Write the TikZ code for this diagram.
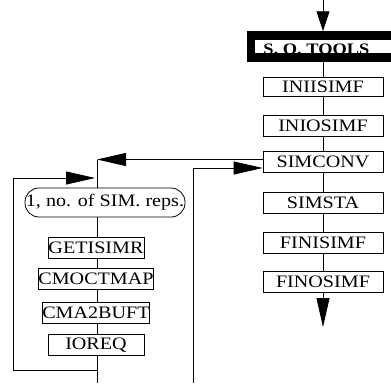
\documentclass[tikz,border=0pt]{standalone}
\usepackage{fontspec}
\setmainfont{Liberation Serif}[FakeStretch=1.15]
\usetikzlibrary{arrows.meta}

\begin{document}
\begin{tikzpicture}[x=1pt,y=-1pt,line width=0.8pt,
    box/.style={draw,fill=white,inner sep=0pt,minimum height=21pt,font=\fontsize{17.5}{19}\selectfont},
    rbox/.style={box,minimum width=120pt},
    lbox/.style={box,minimum width=96pt},
    bigarrow/.style={-{Triangle[length=29pt,width=13pt]}},
    toparrow/.style={-{Triangle[length=20pt,width=13pt]}}]
    \useasboundingbox (0,0) rectangle (391,383);
    \clip (0,0) rectangle (391,383);

    % main column
    \node (toolstext) at (263,54.5) [anchor=base west,inner sep=0pt,font=\fontsize{16}{18}\selectfont\bfseries] {S. O. TOOLS};
    \node (tools) at (330.5,46.5) [draw,line width=8.5pt,inner sep=0pt,minimum width=159pt,minimum height=22pt] {};
    \node (iniisimf) at (323,86.5) [rbox,minimum height=19pt] {INIISIMF};
    \node (iniosimf) at (323,126) [rbox] {INIOSIMF};
    \node (simconv) at (323,162) [rbox] {SIMCONV};
    \node (simsta) at (323,203) [rbox] {SIMSTA};
    \node (finisimf) at (323,243) [rbox] {FINISIMF};
    \node (finosimf) at (323,282) [rbox] {FINOSIMF};
    \coordinate (in) at (323,0);
    \coordinate (out) at (323,327);

    \draw[toparrow] (in) -- (in |- tools.north);
    \draw (iniisimf |- tools.south) -- (iniisimf) (iniisimf) -- (iniosimf) (iniosimf) -- (simconv)
          (simconv) -- (simsta) (simsta) -- (finisimf) (finisimf) -- (finosimf);
    \draw[bigarrow] (finosimf) -- (out);

    % replication loop
    \coordinate (loopin) at (97,159.5);
    \coordinate (looptop) at (97,178);
    \coordinate (loopbot) at (97,370);
    \coordinate (loopexit) at (97,383);
    \coordinate (ret) at (193,383);

    \draw[bigarrow] ([yshift=2.5pt]simconv.west) -- (loopin);
    \draw (loopin) -- (loopexit);
    \draw[bigarrow] (loopbot) -- ++(-84,0) |- ([xshift=-2pt]looptop);
    \draw[bigarrow] (ret) |- ([yshift=-6pt]simconv.west);

    \node (reps) at (105,202.5) [box,rounded corners=14pt,minimum width=160pt,minimum height=29pt] {1, no. of SIM. reps.};
    \node (getisimr) at (96,247.5) [lbox] {GETISIMR};
    \node (cmoctmap) at (96,279) [lbox] {CMOCTMAP};
    \node (cma2buft) at (96,312.5) [lbox] {CMA2BUFT};
    \node (ioreq) at (96,345) [lbox] {IOREQ};
\end{tikzpicture}
\end{document}
